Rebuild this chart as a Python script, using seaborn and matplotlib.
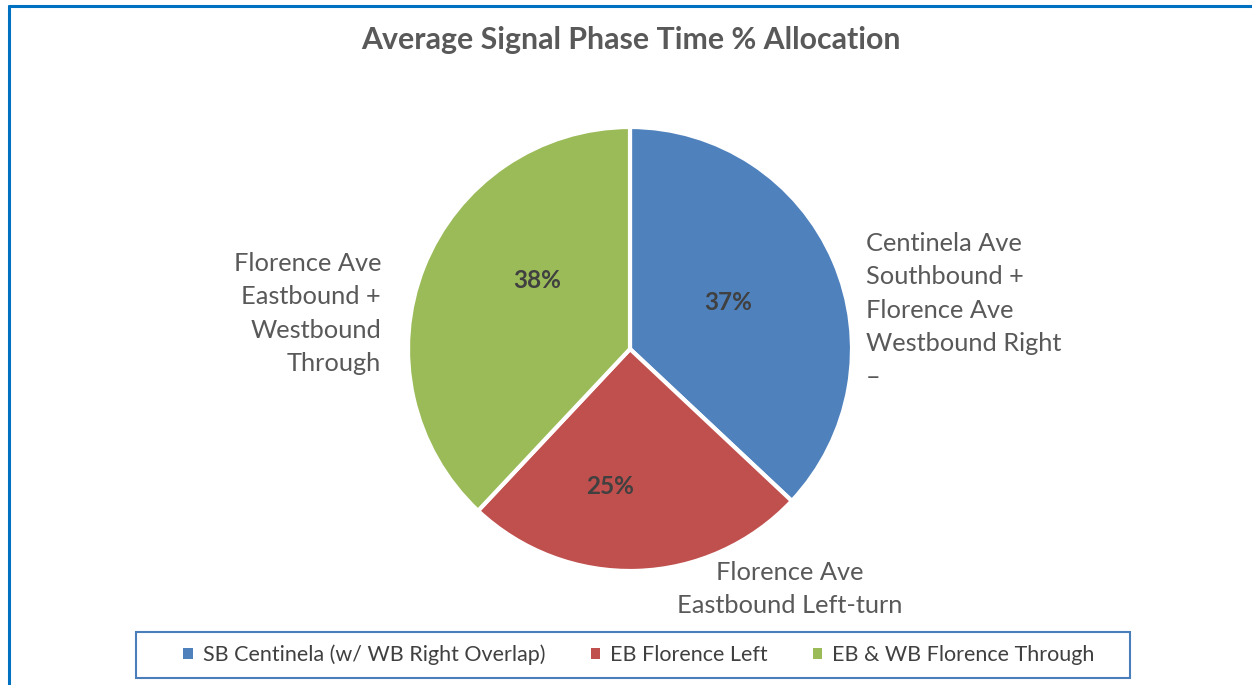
import matplotlib
matplotlib.use("Agg")
import matplotlib.pyplot as plt
import seaborn as sns
from matplotlib.lines import Line2D
from matplotlib.patches import Patch, Rectangle

# Data
phases = ["SB Centinela (w/ WB Right Overlap)", "EB Florence Left", "EB & WB Florence Through"]
shares = [37, 25, 38]
colors = ["#4F81BD", "#C0504D", "#9BBB59"]
slice_labels = [
    "Centinela Ave\nSouthbound +\nFlorence Ave\nWestbound Right\n\u2013",
    "Florence Ave\nEastbound Left-turn",
    "Florence Ave\nEastbound +\nWestbound\nThrough",
]
title = "Average Signal Phase Time % Allocation"

sns.set_theme(style="white")
plt.rcParams["font.family"] = ["Lato", "DejaVu Sans"]

W, H = 1252, 685
fig = plt.figure(figsize=(W / 100, H / 100), dpi=100)

# pie axes: center (630, 349), radius 222 px
cx, cy, r = 630, 349, 222
ax = fig.add_axes([(cx - r) / W, 1 - (cy + r) / H, 2 * r / W, 2 * r / H])
wedges, texts = ax.pie(
    shares, colors=colors, startangle=90, counterclock=False,
    wedgeprops=dict(edgecolor="white", linewidth=3),
    radius=1.0,
)
ax.set_xlim(-1, 1)
ax.set_ylim(-1, 1)
ax.set_aspect("equal")
ax.axis("off")

# percent labels (placed like the original Excel chart)
pct_pos = [(0.44, 0.21), (-0.09, -0.62), (-0.42, 0.31)]
for v, (px, py) in zip(shares, pct_pos):
    ax.text(px, py, f"{v}%", ha="center", va="center", fontsize=17.5,
            fontweight="bold", color="#404040")

# outside category labels (figure pixel coords)
lab_color = "#595959"
lab_kw = dict(fontsize=18.3, color=lab_color, linespacing=1.55)
fig.text(866 / W, 1 - 232 / H, slice_labels[0], ha="left", va="top", **lab_kw)
fig.text(790 / W, 1 - 561 / H, slice_labels[1], ha="center", va="top", **lab_kw)
fig.text(381 / W, 1 - 252 / H, slice_labels[2], ha="right", va="top", **lab_kw)

fig.text(631 / W, 1 - 40 / H, title, ha="center", va="center",
         fontsize=21.8, fontweight="bold", color="#595959")

# legend box
fig.add_artist(Rectangle((136 / W, 1 - 678 / H), 994 / W, 46 / H,
                         transform=fig.transFigure, facecolor="none",
                         edgecolor="#4A7EBB", linewidth=1.5))
handles = [Patch(facecolor=c, edgecolor="none") for c in colors]
leg = fig.legend(handles, phases, ncol=3, loc="center",
                 bbox_to_anchor=(639 / W, 1 - 655 / H),
                 frameon=False, fontsize=15.5, handlelength=0.45, handleheight=0.45,
                 handletextpad=0.45, columnspacing=2.1, borderaxespad=0)
for t in leg.get_texts():
    t.set_color("#404040")

# outer frame (top and left edges only)
fig.add_artist(Line2D([9 / W, 1.0], [1 - 6 / H, 1 - 6 / H], color="#0070C0", linewidth=2.2))
fig.add_artist(Line2D([9 / W, 9 / W], [0, 1 - 6 / H], color="#0070C0", linewidth=2.2))

fig.savefig("out.png", dpi=100, facecolor="white")
